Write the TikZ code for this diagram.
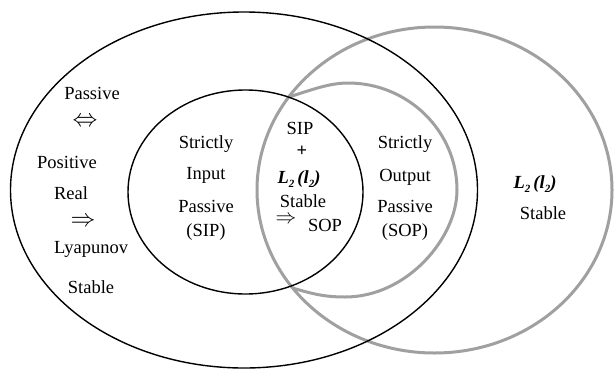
\documentclass[tikz,border=0pt]{standalone}
\usepackage{fontspec}
\setmainfont{Liberation Serif}
\usetikzlibrary{calc}
\definecolor{setgray}{RGB}{160,160,160}
\newcommand{\Ltwo}{{\bfseries\itshape L\raisebox{-0.5ex}{\fontsize{11}{11}\selectfont 2}\,(l\raisebox{-0.5ex}{\fontsize{11}{11}\selectfont 2})}}
\begin{document}
\begin{tikzpicture}[x=1pt,y=-1pt,
  blackset/.style={draw=black,line width=1.4pt},
  grayset/.style={draw=setgray,line width=3pt},
  lbl/.style={font=\fontsize{18.5}{22}\selectfont,inner sep=0pt,anchor=base},
  arr/.style={font=\fontsize{23}{23}\selectfont,inner sep=0pt,anchor=center}]
\useasboundingbox (0,0) rectangle (615,370);

% centres of the sets
\coordinate (G) at (434.5,190);
\coordinate (O) at (244,190);
\coordinate (I) at (245.5,192);

% L2 stable set
\draw[grayset] (G) ellipse [x radius=177.5pt, y radius=163pt];
% strictly output passive set, sharing the left arc of the L2 set
\coordinate (J1) at ($(G)+(145.2:177.5pt and 163pt)$);
\coordinate (J2) at ($(G)+(216.96:177.5pt and 163pt)$);
\coordinate (B) at (345,297);
\coordinate (R) at (457,190);
\coordinate (T) at (348,83);
\draw[grayset,line cap=round] (J2) .. controls (312.7,294) and (325,297) .. (B)
  .. controls (407,297) and (457,238) .. (R)
  .. controls (457,131) and (408,83) .. (T)
  .. controls (328,83) and (308.7,91) .. (J1);

% passive set and strictly input passive set
\draw[blackset] (O) ellipse [x radius=233.5pt, y radius=178pt];
\draw[blackset] (I) ellipse [x radius=117.5pt, y radius=102pt];

% passive region
\node[lbl] (pa) at (92,99) {Passive};
\node[arr] (eq) at (85,122) {$\Leftrightarrow$};
\node[lbl] (po) at (67,168) {Positive};
\node[lbl] (re) at (71,199) {Real};
\node[arr] (im) at (83,222) {$\Rightarrow$};
\node[lbl] (ly) at (91,253) {Lyapunov};
\node[lbl] (st) at (91,293) {Stable};

% strictly input passive region
\node[lbl] (s1) at (206,148) {Strictly};
\node[lbl] (s2) at (206,179) {Input};
\node[lbl] (s3) at (206,212) {Passive};
\node[lbl] (s4) at (206,236) {(SIP)};

% intersection
\node[lbl] (c1) at (300,134) {SIP};
\node[lbl] (c2) at (302,156) {\bfseries +};
\node[lbl] (c3) at (299,183) {\Ltwo};
\node[lbl] (c4) at (303,207) {Stable};
\node[lbl,font=\fontsize{21}{21}\selectfont,text height=8pt,text depth=0pt] (c5) at (286,223.5) {$\Rightarrow$};
\node[lbl] (c6) at (325,231) {SOP};

% strictly output passive region
\node[lbl] (o1) at (405,148) {Strictly};
\node[lbl] (o2) at (405,181) {Output};
\node[lbl] (o3) at (405,212) {Passive};
\node[lbl] (o4) at (405,236) {(SOP)};

% L2 stable region
\node[lbl] (l1) at (535,188) {\Ltwo};
\node[lbl] (l2) at (543,219) {Stable};
\end{tikzpicture}
\end{document}
